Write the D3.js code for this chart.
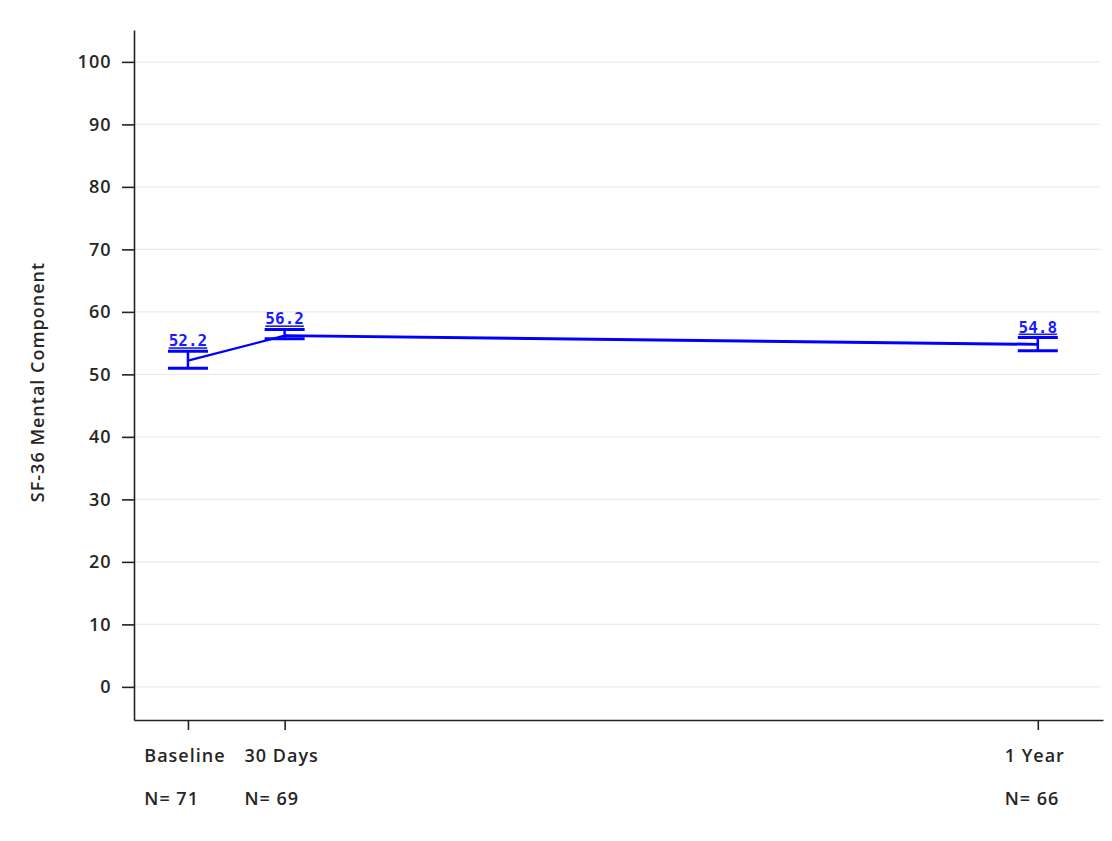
<!DOCTYPE html>
<html>
<head>
<meta charset="utf-8">
<script src="https://cdn.jsdelivr.net/npm/d3@7"></script>
<style>
  html, body { margin: 0; padding: 0; background: #fff; }
  svg { display: block; }
  text { font-family: "Open Sans", "DejaVu Sans", sans-serif; }
</style>
</head>
<body>
<svg id="chart" width="1112" height="841"></svg>
<script>
// ---- data ----
const categories = ["Baseline", "30 Days", "1 Year"];
const dayPositions = [-13, 30, 365];
const nLabels = ["N= 71", "N= 69", "N= 66"];
const means = [52.2, 56.2, 54.8];
const upper = [53.7, 57.2, 55.9];
const lower = [51.0, 55.7, 53.8];
const yTicks = [0, 10, 20, 30, 40, 50, 60, 70, 80, 90, 100];
const yTitle = "SF-36 Mental Component";

// ---- layout ----
const svg = d3.select("#chart");
const mLeft = 134, mRight = 1103, mTop = 30, mBottom = 720;
const fs = "18px", ls = "1px", txt = "#262626", fw = "600";

const x = d3.scaleLinear().domain([-37, 394]).range([mLeft, mRight]);
const y = d3.scaleLinear().domain([-5.3, 105.1]).range([mBottom, mTop]);

// gridlines
svg.append("g").selectAll("line").data(yTicks).join("line")
  .attr("x1", mLeft).attr("x2", mRight - 3)
  .attr("y1", d => y(d)).attr("y2", d => y(d))
  .attr("stroke", "#ebebeb").attr("stroke-width", 1.2);

// y axis
const yAxis = svg.append("g").attr("transform", `translate(${mLeft},0)`)
  .call(d3.axisLeft(y).tickValues(yTicks).tickSize(12).tickPadding(11).tickSizeOuter(0));
yAxis.select(".domain").attr("stroke", "#222").attr("stroke-width", 1.6);
yAxis.selectAll(".tick line").attr("stroke", "#222").attr("stroke-width", 1.6);
yAxis.selectAll(".tick text").attr("fill", txt).style("font-weight", fw)
  .style("font-size", fs).style("letter-spacing", ls).attr("dx", "0.5px");

// x axis
const xAxis = svg.append("g").attr("transform", `translate(0,${mBottom})`)
  .call(d3.axisBottom(x).tickValues(dayPositions).tickSize(10).tickFormat("").tickSizeOuter(0));
xAxis.select(".domain").attr("stroke", "#222").attr("stroke-width", 1.6);
xAxis.selectAll(".tick line").attr("stroke", "#222").attr("stroke-width", 1.6);

// x category labels and N labels
categories.forEach((c, i) => {
  const t = svg.append("text")
    .attr("x", x(dayPositions[i]) - 3).attr("y", 762)
    .attr("text-anchor", "middle").attr("fill", txt).style("font-weight", fw)
    .style("font-size", fs).style("letter-spacing", ls).text(c);
  const w = t.node().getComputedTextLength();
  svg.append("text")
    .attr("x", x(dayPositions[i]) - 3 - w / 2).attr("y", 805)
    .attr("text-anchor", "start").attr("fill", txt).style("font-weight", fw)
    .style("font-size", fs).style("letter-spacing", ls).text(nLabels[i]);
});

// y title
svg.append("text")
  .attr("transform", `translate(44,382) rotate(-90)`)
  .attr("text-anchor", "middle").attr("fill", txt).style("font-weight", fw)
  .style("font-size", fs).style("letter-spacing", ls).text(yTitle);

// line connecting means
const line = d3.line().x(d => x(d[0])).y(d => y(d[1]));
svg.append("path")
  .datum(dayPositions.slice(0, 2).map((d, i) => [d, means[i]]))
  .attr("d", line).attr("fill", "none")
  .attr("stroke", "#0000ff").attr("stroke-width", 2.2);
svg.append("path")
  .datum(dayPositions.slice(1).map((d, i) => [d, means[i + 1]]))
  .attr("d", line).attr("fill", "none")
  .attr("stroke", "#0000ff").attr("stroke-width", 3);

// error bars
const capHalf = 20;
const eb = svg.append("g");
dayPositions.forEach((d, i) => {
  const cx = x(d);
  eb.append("line").attr("x1", cx).attr("x2", cx)
    .attr("y1", y(upper[i])).attr("y2", y(lower[i]))
    .attr("stroke", "#0000ff").attr("stroke-width", 2.5);
  [upper[i], lower[i]].forEach(v => {
    eb.append("line").attr("x1", cx - capHalf).attr("x2", cx + capHalf)
      .attr("y1", y(v)).attr("y2", y(v))
      .attr("stroke", "#0000ff").attr("stroke-width", 3);
  });
  svg.append("text")
    .attr("x", cx).attr("y", y(upper[i]) - 5)
    .attr("text-anchor", "middle").attr("fill", "#1a1aff")
    .style("font-family", "'DejaVu Sans Mono', monospace")
    .style("font-size", "16px").style("font-weight", "bold")
    .style("text-decoration", "underline")
    .text(means[i].toFixed(1));
});
</script>
</body>
</html>
